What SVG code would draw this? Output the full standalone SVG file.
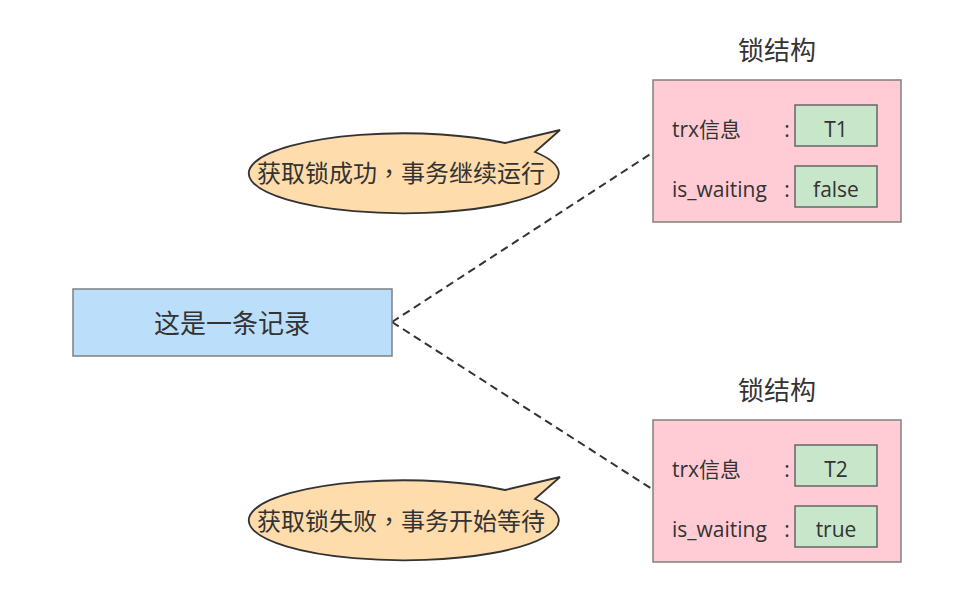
<svg xmlns="http://www.w3.org/2000/svg" width="964" height="597" viewBox="0 0 964 597">
<style>
  text { font-family: "Open Sans", "Noto Sans CJK SC", sans-serif; fill: #333333; }
  .big { font-size: 26px; }
  .bub { font-size: 24px; }
  .small { font-size: 21px; }
  .mid { text-anchor: middle; }
  .tc { font-family: "Noto Sans CJK TC", sans-serif; }
  .lock { fill: #ffccd5; stroke: #808080; stroke-width: 1.5; }
  .val { fill: #c8e6c9; stroke: #666666; stroke-width: 1.5; }
  .rec { fill: #bbdefb; stroke: #808080; stroke-width: 1.5; }
  .bubble { fill: #fedcab; stroke: #333333; stroke-width: 1.8; stroke-linejoin: miter; }
  .conn { fill: none; stroke: #333333; stroke-width: 2; stroke-dasharray: 8 5; }
</style>
<rect width="964" height="597" fill="#ffffff"/>
<g id="connectors">
  <line class="conn" x1="392" y1="322" x2="652" y2="153"/>
  <line class="conn" x1="392" y1="322" x2="652" y2="489"/>
</g>
<g id="record">
  <rect class="rec" x="73" y="289" width="319" height="67"/>
  <text class="big mid" x="232" y="333">这是一条记录</text>
</g>
<g id="bubble-success">
  <path class="bubble" d="M 505,143 L 560,130 L 535,152 A 155 40 0 1 1 505,143 Z"/>
  <text class="bub mid" x="401" y="182">获取锁成功<tspan class="tc">，</tspan>事务继续运行</text>
</g>
<g id="bubble-fail">
  <path class="bubble" d="M 505,490 L 560,477 L 535,499 A 155 40 0 1 1 505,490 Z"/>
  <text class="bub mid" x="401" y="530">获取锁失败<tspan class="tc">，</tspan>事务开始等待</text>
</g>
<g id="lock1">
  <text class="big mid" x="777" y="60">锁结构</text>
  <rect class="lock" x="653" y="80" width="248" height="142"/>
  <text class="small" x="672" y="137">trx信息</text>
  <text class="small mid" x="787" y="137">:</text>
  <rect class="val" x="795" y="105" width="82" height="41"/>
  <text class="small mid" x="836" y="137">T1</text>
  <text class="small" x="672" y="197">is_waiting</text>
  <text class="small mid" x="787" y="197">:</text>
  <rect class="val" x="795" y="166" width="82" height="41"/>
  <text class="small mid" x="836" y="197">false</text>
</g>
<g id="lock2">
  <text class="big mid" x="777" y="400">锁结构</text>
  <rect class="lock" x="653" y="420" width="248" height="142"/>
  <text class="small" x="672" y="477">trx信息</text>
  <text class="small mid" x="787" y="477">:</text>
  <rect class="val" x="795" y="445" width="82" height="41"/>
  <text class="small mid" x="836" y="477">T2</text>
  <text class="small" x="672" y="537">is_waiting</text>
  <text class="small mid" x="787" y="537">:</text>
  <rect class="val" x="795" y="506" width="82" height="41"/>
  <text class="small mid" x="836" y="537">true</text>
</g>
</svg>
